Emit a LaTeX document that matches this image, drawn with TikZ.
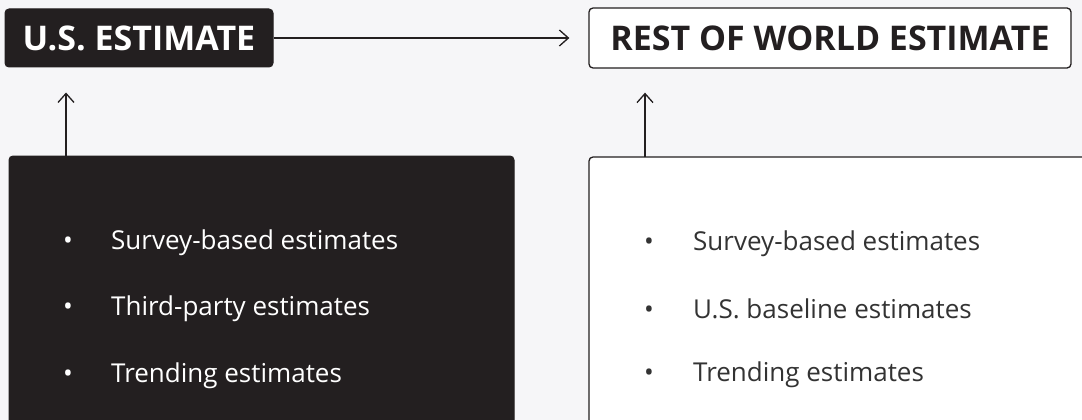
\documentclass[tikz,border=0pt]{standalone}
\usepackage{fontspec}
\setmainfont{Open Sans}
\usetikzlibrary{arrows.meta}

\definecolor{inkdark}{HTML}{231F20}
\definecolor{pagebg}{HTML}{F6F6F8}
\definecolor{itemgray}{HTML}{333333}

\begin{document}
\begin{tikzpicture}[
    x=1pt, y=-1pt,
    darkbox/.style={draw=inkdark, fill=inkdark, rounded corners=4pt, line width=1pt},
    lightbox/.style={draw=inkdark, fill=white, rounded corners=4pt, line width=1.3pt},
    titlebox/.style={minimum height=58pt, inner sep=0pt, font=\fontsize{34}{38}\selectfont\bfseries},
    item/.style={anchor=west, inner sep=0pt, font=\fontsize{26}{30}\selectfont},
    arr/.style={-{Straight Barb[length=9pt, width=16pt]}, line width=1.3pt, draw=inkdark}
]

% Background
\fill[pagebg] (0,0) rectangle (1082,420);
\useasboundingbox (0,0) rectangle (1082,420);
\clip (0,0) rectangle (1082,420);

% Title boxes
\node[darkbox, titlebox, text=white, minimum width=268pt] (us) at (139,38) {U.S. ESTIMATE};
\node[lightbox, titlebox, text=inkdark, minimum width=482pt, minimum height=60pt] (row) at (830,38) {REST OF WORLD ESTIMATE};

% Input boxes
\draw[darkbox] (9,156) rectangle (514,440);
\draw[lightbox] (589,157) rectangle (1100,440);
\coordinate (usin) at (66,156);
\coordinate (rowin) at (645,157);

% Items
\node[item, text=white] (us1) at (63,243) {\makebox[48pt][l]{•}Survey-based estimates};
\node[item, text=white] (us2) at (63,309) {\makebox[48pt][l]{•}Third-party estimates};
\node[item, text=white] (us3) at (63,376) {\makebox[48pt][l]{•}Trending estimates};
\node[item, text=itemgray] (row1) at (644,244) {\makebox[49pt][l]{•}Survey-based estimates};
\node[item, text=itemgray] (row2) at (644,309) {\makebox[49pt][l]{•}U.S. baseline estimates};
\node[item, text=itemgray] (row3) at (644,375) {\makebox[49pt][l]{•}Trending estimates};

% Arrows
\draw[arr, shorten >=19pt] (us.east) -- (row.west);
\draw[arr, shorten >=25pt] (usin) -- (usin |- us.south);
\draw[arr, shorten >=24pt] (rowin) -- (rowin |- row.south);

\end{tikzpicture}
\end{document}
